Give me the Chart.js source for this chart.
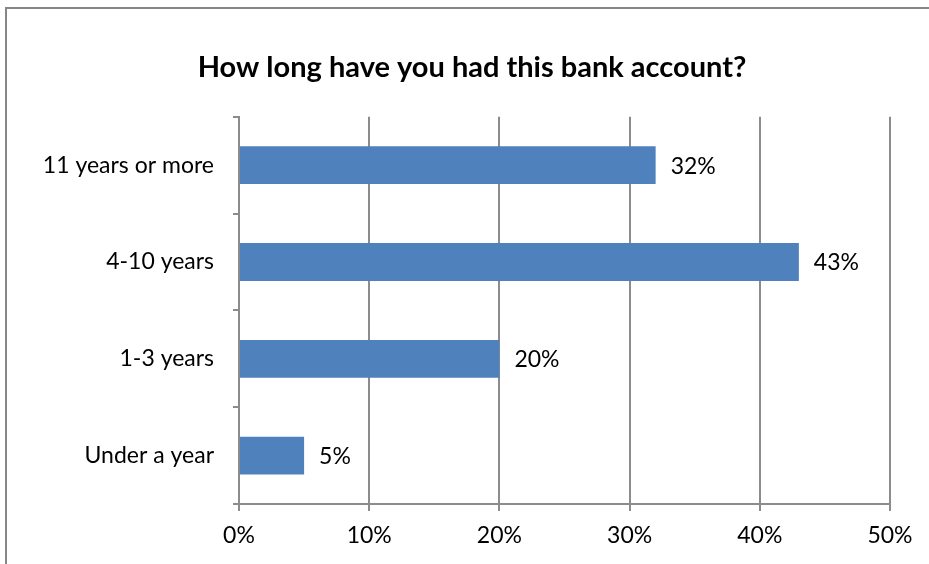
<!DOCTYPE html>
<html>
<head>
<meta charset="utf-8">
<script src="https://cdn.jsdelivr.net/npm/chart.js@4"></script>
<style>
  html, body { margin: 0; padding: 0; background: #fff; }
  #wrap { width: 929px; height: 564px; position: relative; }
</style>
</head>
<body>
<div id="wrap"><canvas id="bankChart" width="929" height="564"></canvas></div>
<script>
// Chart data
const categories = ['11 years or more', '4-10 years', '1-3 years', 'Under a year'];
const shares = [32, 43, 20, 5];
const xTicks = [0, 10, 20, 30, 40, 50];

const FONT = 'Lato, "Open Sans", sans-serif';
const GRID = '#8c8c8c';
const BAR = '#4f81bd';

// value labels at the end of each bar
const valueLabels = {
    id: 'valueLabels',
    afterDatasetsDraw(chart) {
        const ctx = chart.ctx;
        const meta = chart.getDatasetMeta(0);
        ctx.save();
        ctx.font = '23px ' + FONT;
        ctx.fillStyle = '#000';
        ctx.textAlign = 'left';
        ctx.textBaseline = 'middle';
        meta.data.forEach((bar, i) => {
            ctx.fillText(shares[i] + '%', bar.x + 15, bar.y + 1);
        });
        ctx.restore();
    }
};

// outer frame like the spreadsheet chart border, and title centred on the frame
const frame = {
    id: 'frame',
    afterLayout(chart) {
        if (chart.titleBlock) {
            chart.titleBlock.left = 15;
            chart.titleBlock.right = 929;
        }
    },
    beforeDraw(chart) {
        const ctx = chart.ctx;
        ctx.save();
        ctx.strokeStyle = '#868686';
        ctx.lineWidth = 2;
        ctx.strokeRect(6, 8, 940, 580);
        ctx.restore();
    }
};

new Chart(document.getElementById('bankChart'), {
    type: 'bar',
    data: {
        labels: categories,
        datasets: [{
            data: shares,
            backgroundColor: BAR,
            borderWidth: 0,
            barPercentage: 0.39,
            categoryPercentage: 1
        }]
    },
    options: {
        indexAxis: 'y',
        responsive: false,
        animation: false,
        layout: { padding: { left: 0, right: 39, top: 0, bottom: 0 } },
        scales: {
            x: {
                min: 0,
                max: 50,
                afterBuildTicks: (scale) => { scale.ticks = xTicks.map(v => ({ value: v })); },
                afterFit: (scale) => { scale.height = 60; },
                grid: { color: GRID, lineWidth: 2, tickLength: 7 },
                border: { color: GRID, width: 2 },
                ticks: {
                    callback: (v) => v + '%',
                    color: '#000',
                    padding: 11,
                    maxRotation: 0,
                    font: { family: FONT, size: 23 }
                }
            },
            y: {
                afterFit: (scale) => { scale.width = 239; },
                grid: { drawOnChartArea: false, color: GRID, lineWidth: 2, tickLength: 6, offset: true },
                border: { color: GRID, width: 2 },
                ticks: {
                    color: '#000',
                    padding: 19,
                    font: { family: FONT, size: 23 }
                }
            }
        },
        plugins: {
            legend: { display: false },
            tooltip: { enabled: false },
            title: {
                display: true,
                text: 'How long have you had this bank account?',
                color: '#000',
                font: { family: FONT, size: 29, weight: 'bold' },
                padding: { top: 50, bottom: 32 }
            }
        }
    },
    plugins: [frame, valueLabels]
});
</script>
</body>
</html>
